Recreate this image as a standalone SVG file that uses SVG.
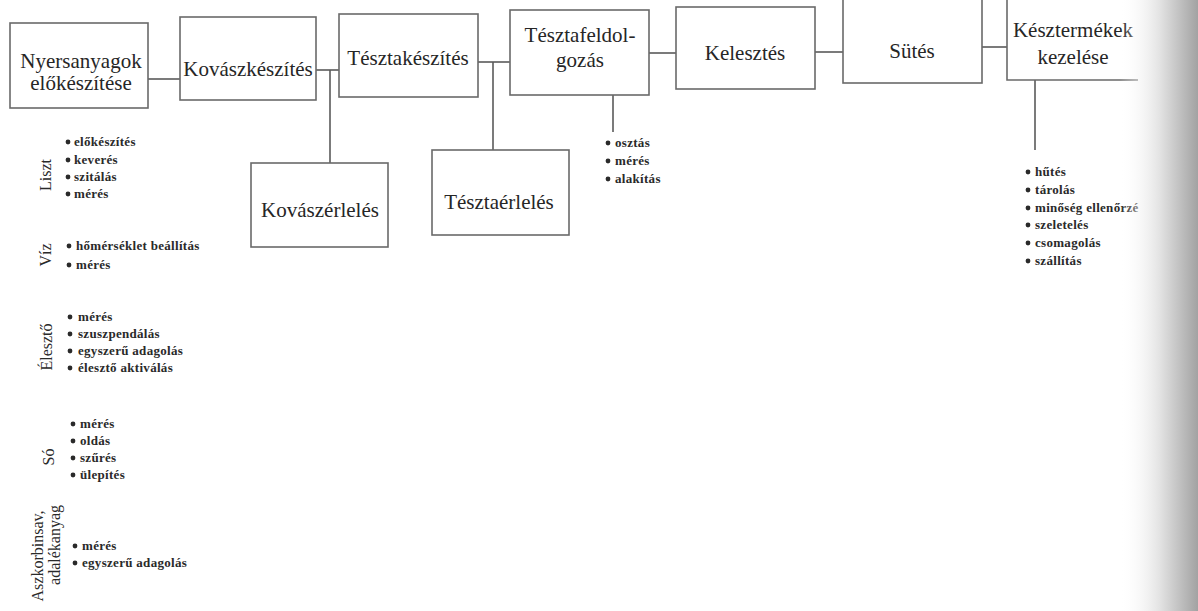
<svg xmlns="http://www.w3.org/2000/svg" width="1198" height="611" viewBox="0 0 1198 611">
<defs>
<style>
.box{fill:#fff;stroke:#6a6a6a;stroke-width:1.6}
.bt{font-family:"Liberation Serif",serif;font-size:21px;fill:#262626;text-anchor:middle}
.bl{font-family:"Liberation Serif",serif;font-size:13px;letter-spacing:0.3px;font-weight:bold;fill:#2a2a2a}
.lab{font-family:"Liberation Serif",serif;font-size:16px;fill:#2a2a2a;text-anchor:middle}
.con{stroke:#5a5a5a;stroke-width:1.6;fill:none}
.dot{fill:#2a2a2a}
</style>
<linearGradient id="shade" x1="0" y1="0" x2="1" y2="0">
<stop offset="0" stop-color="#fff" stop-opacity="0"/>
<stop offset="0.5" stop-color="#e4e4e4"/>
<stop offset="1" stop-color="#a2a2a2"/>
</linearGradient>
</defs>
<rect width="1198" height="611" fill="#fff"/>

<g id="connectors">
<line class="con" x1="148" y1="79" x2="180" y2="79"/>
<line class="con" x1="316" y1="70" x2="339" y2="70"/>
<line class="con" x1="330" y1="70" x2="330" y2="163"/>
<line class="con" x1="478" y1="62" x2="510" y2="62"/>
<line class="con" x1="493" y1="62" x2="493" y2="150"/>
<line class="con" x1="613" y1="95" x2="613" y2="132"/>
<line class="con" x1="649" y1="53" x2="676" y2="53"/>
<line class="con" x1="815" y1="52" x2="843" y2="52"/>
<line class="con" x1="982" y1="47" x2="1007" y2="47"/>
<line class="con" x1="1035" y1="80" x2="1035" y2="150"/>
</g>

<g id="n-nyersanyagok">
<rect class="box" x="10" y="23" width="138" height="85"/>
<text class="bt" x="81" y="68">Nyersanyagok</text>
<text class="bt" x="81" y="90">előkészítése</text>
</g>
<g id="n-kovaszkeszites">
<rect class="box" x="180" y="17" width="136" height="83"/>
<text class="bt" x="248" y="76">Kovászkészítés</text>
</g>
<g id="n-tesztakeszites">
<rect class="box" x="339" y="14" width="139" height="83"/>
<text class="bt" x="408" y="65">Tésztakészítés</text>
</g>
<g id="n-tesztafeldolgozas">
<rect class="box" x="510" y="10" width="139" height="85"/>
<text class="bt" x="580" y="42">Tésztafeldol-</text>
<text class="bt" x="580" y="67">gozás</text>
</g>
<g id="n-kelesztes">
<rect class="box" x="676" y="7" width="139" height="82"/>
<text class="bt" x="745" y="60">Kelesztés</text>
</g>
<g id="n-sutes">
<rect class="box" x="843" y="-3" width="139" height="86"/>
<text class="bt" x="912" y="58">Sütés</text>
</g>
<g id="n-kesztermekek">
<path class="box" d="M1007,-3 V80 H1138"/>
<text class="bt" x="1073" y="37">Késztermékek</text>
<text class="bt" x="1073" y="64">kezelése</text>
</g>
<g id="n-kovaszerleles">
<rect class="box" x="251" y="163" width="137" height="84"/>
<text class="bt" x="320" y="217">Kovászérlelés</text>
</g>
<g id="n-tesztaerleles">
<rect class="box" x="432" y="150" width="137" height="85"/>
<text class="bt" x="499" y="209">Tésztaérlelés</text>
</g>

<g id="n-feldolgozas-list">
<circle class="dot" cx="608" cy="143" r="2.4"/><text class="bl" x="615" y="147">osztás</text>
<circle class="dot" cx="608" cy="161" r="2.4"/><text class="bl" x="615" y="165">mérés</text>
<circle class="dot" cx="608" cy="179" r="2.4"/><text class="bl" x="615" y="183">alakítás</text>
</g>

<g id="n-kesztermek-list">
<circle class="dot" cx="1028" cy="172" r="2.4"/><text class="bl" x="1035" y="176">hűtés</text>
<circle class="dot" cx="1028" cy="190" r="2.4"/><text class="bl" x="1035" y="194">tárolás</text>
<circle class="dot" cx="1028" cy="208" r="2.4"/><text class="bl" x="1035" y="212">minőség ellenőrzé</text>
<circle class="dot" cx="1028" cy="225" r="2.4"/><text class="bl" x="1035" y="229">szeletelés</text>
<circle class="dot" cx="1028" cy="243" r="2.4"/><text class="bl" x="1035" y="247">csomagolás</text>
<circle class="dot" cx="1028" cy="261" r="2.4"/><text class="bl" x="1035" y="265">szállítás</text>
</g>

<g id="n-liszt">
<text class="lab" transform="translate(51,175) rotate(-90)">Liszt</text>
<circle class="dot" cx="68" cy="142" r="2.4"/><text class="bl" x="74" y="146">előkészítés</text>
<circle class="dot" cx="68" cy="160" r="2.4"/><text class="bl" x="74" y="164">keverés</text>
<circle class="dot" cx="68" cy="177" r="2.4"/><text class="bl" x="74" y="181">szitálás</text>
<circle class="dot" cx="68" cy="194" r="2.4"/><text class="bl" x="74" y="198">mérés</text>
</g>
<g id="n-viz">
<text class="lab" transform="translate(51,255) rotate(-90)">Víz</text>
<circle class="dot" cx="69" cy="246" r="2.4"/><text class="bl" x="76" y="250">hőmérséklet beállítás</text>
<circle class="dot" cx="69" cy="265" r="2.4"/><text class="bl" x="76" y="269">mérés</text>
</g>
<g id="n-eleszto">
<text class="lab" transform="translate(52,347) rotate(-90)">Élesztő</text>
<circle class="dot" cx="70" cy="317" r="2.4"/><text class="bl" x="78" y="321">mérés</text>
<circle class="dot" cx="70" cy="334" r="2.4"/><text class="bl" x="78" y="338">szuszpendálás</text>
<circle class="dot" cx="70" cy="351" r="2.4"/><text class="bl" x="78" y="355">egyszerű adagolás</text>
<circle class="dot" cx="70" cy="368" r="2.4"/><text class="bl" x="78" y="372">élesztő aktiválás</text>
</g>
<g id="n-so">
<text class="lab" transform="translate(54,457) rotate(-90)">Só</text>
<circle class="dot" cx="73" cy="424" r="2.4"/><text class="bl" x="80" y="428">mérés</text>
<circle class="dot" cx="73" cy="441" r="2.4"/><text class="bl" x="80" y="445">oldás</text>
<circle class="dot" cx="73" cy="458" r="2.4"/><text class="bl" x="80" y="462">szűrés</text>
<circle class="dot" cx="73" cy="475" r="2.4"/><text class="bl" x="80" y="479">ülepítés</text>
</g>
<g id="n-aszkorbinsav">
<text class="lab" transform="translate(43,556) rotate(-90)">Aszkorbinsav,</text>
<text class="lab" transform="translate(60,545) rotate(-90)">adalékanyag</text>
<circle class="dot" cx="75" cy="546" r="2.4"/><text class="bl" x="82" y="550">mérés</text>
<circle class="dot" cx="75" cy="563" r="2.4"/><text class="bl" x="82" y="567">egyszerű adagolás</text>
</g>

<rect x="1120" y="0" width="78" height="611" fill="url(#shade)"/>
</svg>
